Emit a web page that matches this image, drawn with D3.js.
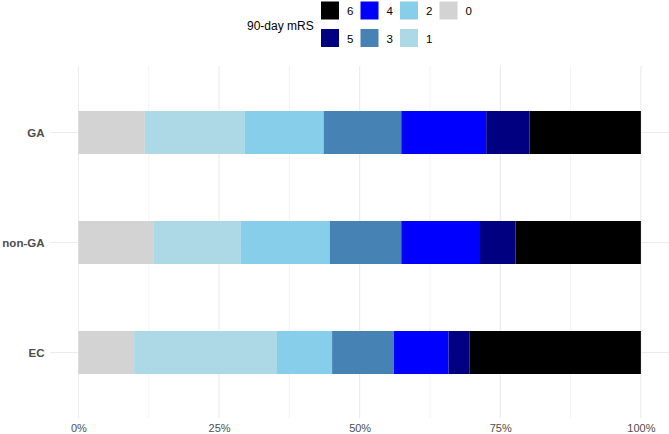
<!DOCTYPE html>
<html>
<head>
<meta charset="utf-8">
<script src="https://cdn.jsdelivr.net/npm/d3@7"></script>
<style>
  body { margin: 0; background: #fff; }
  text { font-family: "Liberation Sans", Arial, sans-serif; }
</style>
</head>
<body>
<svg id="chart"></svg>
<script>
// groups, top to bottom
var groups = ["GA", "non-GA", "EC"];
// mRS levels, stacked left to right
var levels = ["0", "1", "2", "3", "4", "5", "6"];
// percentage of patients per mRS level
var gaValues    = [11.8, 17.8, 14.0, 13.8, 15.1, 7.7, 19.8];
var nonGaValues = [13.3, 15.5, 15.9, 12.7, 14.0, 6.3, 22.3];
var ecValues    = [9.9, 25.4, 9.8, 11.0, 9.7, 3.7, 30.5];
var levelColors = ["#D3D3D3", "#ADD8E6", "#87CEEB", "#4682B4", "#0000FF", "#000080", "#000000"];
var xTicks = [0, 0.25, 0.5, 0.75, 1];
var legendOrder = ["6", "5", "4", "3", "2", "1", "0"];

var width = 669, height = 434;
var panel = {left: 50.3, right: 669, top: 66, bottom: 418};

var valuesByGroup = {"GA": gaValues, "non-GA": nonGaValues, "EC": ecValues};
var rows = groups.map(function (g) {
    var total = d3.sum(valuesByGroup[g]);
    var row = {group: g};
    levels.forEach(function (l, i) { row[l] = valuesByGroup[g][i] / total; });
    return row;
});
var series = d3.stack().keys(levels)(rows);

var xScale = d3.scaleLinear().domain([-0.05, 1.05]).range([panel.left, panel.right]);
var yScale = d3.scalePoint().domain(groups).range([132.5, 352.5]);
var color = d3.scaleOrdinal().domain(levels).range(levelColors);
var barH = 43;

var svg = d3.select("#chart").attr("width", width).attr("height", height);

// grid
var minor = [0.125, 0.375, 0.625, 0.875];
svg.append("g").selectAll("line").data(minor).enter().append("line")
    .attr("x1", function (d) { return xScale(d); })
    .attr("x2", function (d) { return xScale(d); })
    .attr("y1", panel.top).attr("y2", panel.bottom)
    .attr("stroke", "#EBEBEB").attr("stroke-width", 0.6);
svg.append("g").selectAll("line").data(xTicks).enter().append("line")
    .attr("x1", function (d) { return xScale(d); })
    .attr("x2", function (d) { return xScale(d); })
    .attr("y1", panel.top).attr("y2", panel.bottom)
    .attr("stroke", "#EBEBEB").attr("stroke-width", 1.1);
svg.append("g").selectAll("line").data(groups).enter().append("line")
    .attr("x1", panel.left).attr("x2", panel.right)
    .attr("y1", function (d) { return yScale(d); })
    .attr("y2", function (d) { return yScale(d); })
    .attr("stroke", "#EBEBEB").attr("stroke-width", 1.1);

// bars
svg.append("g").selectAll("g").data(series).enter().append("g")
    .attr("fill", function (d) { return color(d.key); })
    .selectAll("rect").data(function (d) { return d; }).enter().append("rect")
    .attr("x", function (d) { return xScale(d[0]); })
    .attr("width", function (d) { return xScale(d[1]) - xScale(d[0]); })
    .attr("y", function (d) { return yScale(d.data.group) - barH / 2; })
    .attr("height", barH);

// axes
var xAxis = d3.axisBottom(xScale).tickValues(xTicks).tickFormat(d3.format(".0%")).tickSize(0).tickPadding(0);
var xAxisG = svg.append("g").attr("transform", "translate(0,424)").call(xAxis);
xAxisG.select(".domain").remove();
xAxisG.selectAll("text").attr("font-size", 11).attr("fill", "#4D4D4D").attr("dy", "0.71em");

var yAxis = d3.axisLeft(yScale).tickSize(0).tickPadding(0);
var yAxisG = svg.append("g").attr("transform", "translate(44.5,0)").call(yAxis);
yAxisG.select(".domain").remove();
yAxisG.selectAll("text").attr("font-size", 11.5).attr("font-weight", "bold").attr("fill", "#4D4D4D");

// legend
var legend = svg.append("g");
legend.append("text").attr("x", 247).attr("y", 30).attr("font-size", 12).attr("fill", "#000")
    .text("90-day mRS");
var items = legend.selectAll("g.item").data(legendOrder).enter().append("g")
    .attr("class", "item")
    .attr("transform", function (d, i) {
        var col = Math.floor(i / 2), row = i % 2;
        return "translate(" + (321 + col * 39.5) + "," + (1.5 + row * 27.5) + ")";
    });
items.append("rect").attr("width", 18).attr("height", 18)
    .attr("fill", function (d) { return color(d); });
items.append("text").attr("x", 26).attr("y", 13.5).attr("font-size", 11.5).attr("fill", "#000")
    .text(function (d) { return d; });
</script>
</body>
</html>
